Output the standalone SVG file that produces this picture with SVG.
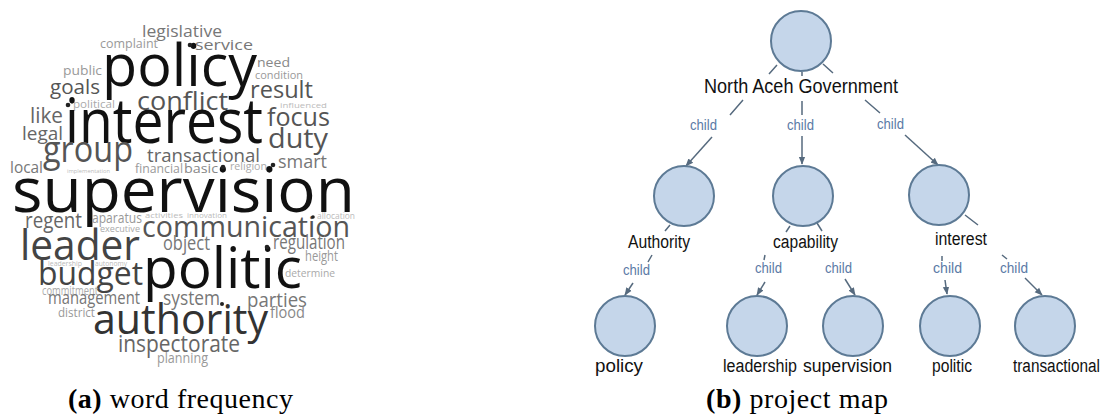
<svg xmlns="http://www.w3.org/2000/svg" width="1105" height="417" viewBox="0 0 1105 417">
<defs>
<style>
.w{font-family:"Open Sans","DejaVu Sans",sans-serif;}
.c1{fill:#111}.c3{fill:#333}.c4{fill:#444}.c5{fill:#555}.c6{fill:#666}.c7{fill:#777}.c8{fill:#888}.c9{fill:#999}.ca{fill:#aaa}.cb{fill:#bbb}
.dot{fill:#222}
.nd{fill:#c5d6ea;stroke:#5d7a95;stroke-width:2}
.lbl{font-family:"Liberation Sans",Arial,sans-serif;fill:#111}
.ch{font-family:"Liberation Sans",Arial,sans-serif;fill:#5b7aa6;font-size:15px}
.ed{stroke:#566a7e;stroke-width:1.5;fill:none}
.cap{font-family:"Liberation Serif","Times New Roman",serif;font-size:28px;fill:#000}
</style>
<marker id="ah" viewBox="0 0 10 10" refX="9" refY="5" markerWidth="8" markerHeight="8" markerUnits="userSpaceOnUse" orient="auto">
<path d="M0,1 L10,5 L0,9 Z" fill="#566a7e"/>
</marker>
</defs>
<rect width="1105" height="417" fill="#fff"/>

<g id="wordcloud" class="w">
<text class="c7" x="142" y="37" font-size="17" textLength="80" lengthAdjust="spacingAndGlyphs">legislative</text>
<text class="c9" x="100" y="48" font-size="12" textLength="58" lengthAdjust="spacingAndGlyphs">complaint</text>
<text class="c7" x="195" y="50" font-size="15" textLength="58" lengthAdjust="spacingAndGlyphs">service</text>
<text class="c1" x="102" y="86" font-size="58" textLength="155" lengthAdjust="spacingAndGlyphs">policy</text>
<text class="c9" x="63" y="75" font-size="12" textLength="39" lengthAdjust="spacingAndGlyphs">public</text>
<text class="c8" x="257" y="67" font-size="13" textLength="33" lengthAdjust="spacingAndGlyphs">need</text>
<text class="c9" x="255" y="79" font-size="11" textLength="48" lengthAdjust="spacingAndGlyphs">condition</text>
<text class="c5" x="50" y="94" font-size="20" textLength="50" lengthAdjust="spacingAndGlyphs">goals</text>
<text class="c5" x="250" y="98" font-size="24" textLength="63" lengthAdjust="spacingAndGlyphs">result</text>
<text class="ca" x="73" y="108" font-size="10" textLength="42" lengthAdjust="spacingAndGlyphs">political</text>
<text class="c5" x="137" y="110" font-size="25" textLength="91" lengthAdjust="spacingAndGlyphs">conflict</text>
<text class="cb" x="280" y="108" font-size="8" textLength="47" lengthAdjust="spacingAndGlyphs">influenced</text>
<text class="c6" x="30" y="123" font-size="22" textLength="33" lengthAdjust="spacingAndGlyphs">like</text>
<text class="c1" x="65" y="143" font-size="62" textLength="198" lengthAdjust="spacingAndGlyphs">interest</text>
<text class="c5" x="267" y="126" font-size="25" textLength="63" lengthAdjust="spacingAndGlyphs">focus</text>
<text class="c6" x="22" y="140" font-size="18" textLength="41" lengthAdjust="spacingAndGlyphs">legal</text>
<text class="c5" x="268" y="148" font-size="28" textLength="60" lengthAdjust="spacingAndGlyphs">duty</text>
<text class="c5" x="43" y="162" font-size="36" textLength="90" lengthAdjust="spacingAndGlyphs">group</text>
<text class="c6" x="147" y="162" font-size="19" textLength="113" lengthAdjust="spacingAndGlyphs">transactional</text>
<text class="c7" x="10" y="173" font-size="16" textLength="33" lengthAdjust="spacingAndGlyphs">local</text>
<text class="cb" x="67" y="173" font-size="6" textLength="43" lengthAdjust="spacingAndGlyphs">implementation</text>
<text class="c9" x="135" y="173" font-size="12" textLength="48" lengthAdjust="spacingAndGlyphs">financial</text>
<text class="c8" x="184" y="173" font-size="12" textLength="34" lengthAdjust="spacingAndGlyphs">basic</text>
<text class="ca" x="230" y="170" font-size="11" textLength="37" lengthAdjust="spacingAndGlyphs">religion</text>
<text class="c7" x="278" y="168" font-size="18" textLength="49" lengthAdjust="spacingAndGlyphs">smart</text>
<text class="c1" x="12" y="212" font-size="62" textLength="343" lengthAdjust="spacingAndGlyphs">supervision</text>
<text class="c6" x="25" y="228" font-size="22" textLength="57" lengthAdjust="spacingAndGlyphs">regent</text>
<text class="c9" x="92" y="223" font-size="15" textLength="50" lengthAdjust="spacingAndGlyphs">aparatus</text>
<text class="cb" x="145" y="218" font-size="8" textLength="38" lengthAdjust="spacingAndGlyphs">activities</text>
<text class="cb" x="187" y="218" font-size="8" textLength="40" lengthAdjust="spacingAndGlyphs">innovation</text>
<text class="cb" x="317" y="219" font-size="9" textLength="38" lengthAdjust="spacingAndGlyphs">allocation</text>
<text class="ca" x="100" y="232" font-size="9" textLength="40" lengthAdjust="spacingAndGlyphs">executive</text>
<text class="c5" x="142" y="237" font-size="30" textLength="208" lengthAdjust="spacingAndGlyphs">communication</text>
<text class="c4" x="20" y="260" font-size="42" textLength="120" lengthAdjust="spacingAndGlyphs">leader</text>
<text class="c7" x="163" y="250" font-size="20" textLength="47" lengthAdjust="spacingAndGlyphs">object</text>
<text class="c7" x="273" y="249" font-size="20" textLength="72" lengthAdjust="spacingAndGlyphs">regulation</text>
<text class="c9" x="305" y="261" font-size="14" textLength="33" lengthAdjust="spacingAndGlyphs">height</text>
<text class="cb" x="48" y="266" font-size="7" textLength="34" lengthAdjust="spacingAndGlyphs">leadership</text>
<text class="cb" x="95" y="266" font-size="7" textLength="32" lengthAdjust="spacingAndGlyphs">autonomy</text>
<text class="c1" x="143" y="288" font-size="57" textLength="159" lengthAdjust="spacingAndGlyphs">politic</text>
<text class="ca" x="285" y="277" font-size="11" textLength="50" lengthAdjust="spacingAndGlyphs">determine</text>
<text class="c4" x="38" y="285" font-size="32" textLength="105" lengthAdjust="spacingAndGlyphs">budget</text>
<text class="ca" x="42" y="295" font-size="12" textLength="56" lengthAdjust="spacingAndGlyphs">commitment</text>
<text class="c7" x="48" y="304" font-size="18" textLength="92" lengthAdjust="spacingAndGlyphs">management</text>
<text class="c7" x="163" y="305" font-size="20" textLength="57" lengthAdjust="spacingAndGlyphs">system</text>
<text class="c7" x="247" y="307" font-size="20" textLength="60" lengthAdjust="spacingAndGlyphs">parties</text>
<text class="c9" x="58" y="317" font-size="12" textLength="37" lengthAdjust="spacingAndGlyphs">district</text>
<text class="c3" x="93" y="334" font-size="42" textLength="175" lengthAdjust="spacingAndGlyphs">authority</text>
<text class="c8" x="270" y="318" font-size="16" textLength="35" lengthAdjust="spacingAndGlyphs">flood</text>
<text class="c6" x="118" y="352" font-size="24" textLength="122" lengthAdjust="spacingAndGlyphs">inspectorate</text>
<text class="c9" x="157" y="363" font-size="14" textLength="51" lengthAdjust="spacingAndGlyphs">planning</text>
<circle class="dot" cx="190" cy="45" r="2.3"/>
<circle class="dot" cx="68" cy="105" r="2.3"/>
<circle class="dot" cx="223" cy="167" r="2.3"/>
<circle class="dot" cx="273" cy="165" r="2.3"/>
<circle class="dot" cx="313" cy="217" r="1.8"/>
<circle class="dot" cx="267" cy="247" r="2.3"/>
<circle class="dot" cx="222" cy="304" r="2"/>
</g>

<g id="connectors">
<path class="ed" d="M777,65 L769,74 M743,100 L730,115"/>
<path class="ed" d="M712,137 L686,166" marker-end="url(#ah)"/>
<path class="ed" d="M802,72 L802,76 M802,101 L802,115"/>
<path class="ed" d="M802,136 L802,164" marker-end="url(#ah)"/>
<path class="ed" d="M823,64 L833,73 M865,100 L880,113"/>
<path class="ed" d="M905,135 L938,165" marker-end="url(#ah)"/>
<path class="ed" d="M670,225 L665,231 M652,255 L648,262"/>
<path class="ed" d="M633,283 L625,295" marker-end="url(#ah)"/>
<path class="ed" d="M790,226 L786,232 M765,255 L764,260"/>
<path class="ed" d="M765,282 L757,295" marker-end="url(#ah)"/>
<path class="ed" d="M817,223 L822,231"/>
<path class="ed" d="M845,279 L855,295" marker-end="url(#ah)"/>
<path class="ed" d="M942,256 L942,261"/>
<path class="ed" d="M945,280 L947,294" marker-end="url(#ah)"/>
<path class="ed" d="M965,215 L978,225 M1002,255 L1007,259"/>
<path class="ed" d="M1025,278 L1042,295" marker-end="url(#ah)"/>
<text class="ch" x="690" y="130" textLength="27" lengthAdjust="spacingAndGlyphs">child</text>
<text class="ch" x="787" y="130" textLength="27" lengthAdjust="spacingAndGlyphs">child</text>
<text class="ch" x="877" y="129" textLength="27" lengthAdjust="spacingAndGlyphs">child</text>
<text class="ch" x="623" y="275" textLength="27" lengthAdjust="spacingAndGlyphs">child</text>
<text class="ch" x="755" y="273" textLength="27" lengthAdjust="spacingAndGlyphs">child</text>
<text class="ch" x="825" y="273" textLength="27" lengthAdjust="spacingAndGlyphs">child</text>
<text class="ch" x="933" y="273" textLength="29" lengthAdjust="spacingAndGlyphs">child</text>
<text class="ch" x="1000" y="273" textLength="28" lengthAdjust="spacingAndGlyphs">child</text>
</g>

<g id="node-root">
<circle class="nd" cx="801" cy="41" r="30"/>
<text class="lbl" x="704" y="93" font-size="20" textLength="194" lengthAdjust="spacingAndGlyphs">North Aceh Government</text>
</g>
<g id="node-authority">
<circle class="nd" cx="684" cy="196" r="30"/>
<text class="lbl" x="628" y="248" font-size="18" textLength="62" lengthAdjust="spacingAndGlyphs">Authority</text>
</g>
<g id="node-capability">
<circle class="nd" cx="803" cy="196" r="30"/>
<text class="lbl" x="773" y="248" font-size="18" textLength="65" lengthAdjust="spacingAndGlyphs">capability</text>
</g>
<g id="node-interest">
<circle class="nd" cx="939" cy="195" r="30"/>
<text class="lbl" x="935" y="245" font-size="18" textLength="52" lengthAdjust="spacingAndGlyphs">interest</text>
</g>
<g id="node-policy">
<circle class="nd" cx="625" cy="326" r="30"/>
<text class="lbl" x="595" y="372" font-size="18" textLength="48" lengthAdjust="spacingAndGlyphs">policy</text>
</g>
<g id="node-leadership">
<circle class="nd" cx="757" cy="326" r="30"/>
<text class="lbl" x="723" y="372" font-size="18" textLength="74" lengthAdjust="spacingAndGlyphs">leadership</text>
</g>
<g id="node-supervision">
<circle class="nd" cx="853" cy="326" r="30"/>
<text class="lbl" x="803" y="372" font-size="18" textLength="89" lengthAdjust="spacingAndGlyphs">supervision</text>
</g>
<g id="node-politic">
<circle class="nd" cx="950" cy="326" r="30"/>
<text class="lbl" x="932" y="372" font-size="18" textLength="40" lengthAdjust="spacingAndGlyphs">politic</text>
</g>
<g id="node-transactional">
<circle class="nd" cx="1045" cy="326" r="30"/>
<text class="lbl" x="1100" y="372" font-size="18" text-anchor="end" textLength="87" lengthAdjust="spacingAndGlyphs">transactional</text>
</g>

<g id="captions">
<text class="cap" x="68" y="408" textLength="225" lengthAdjust="spacing"><tspan font-weight="bold">(a)</tspan> word frequency</text>
<text class="cap" x="706" y="408" textLength="182" lengthAdjust="spacing"><tspan font-weight="bold">(b)</tspan> project map</text>
</g>
</svg>
